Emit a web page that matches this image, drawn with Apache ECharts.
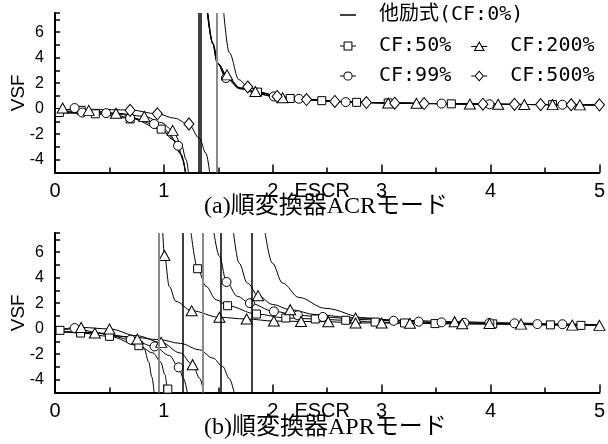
<!DOCTYPE html>
<html>
<head>
<meta charset="utf-8">
<script src="https://cdn.jsdelivr.net/npm/echarts@6/dist/echarts.min.js"></script>
<style>
html, body { margin: 0; padding: 0; background: #fff; }
#chart { width: 608px; height: 444px; }
</style>
</head>
<body>
<div id="chart"></div>
<script>
// ---------- series names ----------
const NAME_SEP = '他励式(CF:0%)';
const NAME_50 = 'CF:50%';
const NAME_99 = 'CF:99%';
const NAME_200 = 'CF:200%';
const NAME_500 = 'CF:500%';

// ---------- (a) ACR mode ----------
const acrAsymBlack = [1.319, 1.344];
const acrAsymGray = [1.487];

const acrSepLeft = [[0,-0.2],[0.3,-0.25],[0.6,-0.45],[0.85,-0.95],[1.0,-1.6],[1.1,-2.5],[1.16,-3.6],[1.2,-5]];
const acrSepRight = [[1.40,7.5],[1.447,5.15],[1.49,3.58],[1.57,2.53],[1.69,1.62],[1.84,1.23],[2.03,0.92],[2.3,0.72],[2.7,0.53],[3.0,0.46],[3.5,0.4],[4.0,0.35],[4.5,0.32],[5.0,0.3]];

const acrCf50Left = [[0,-0.3],[0.37,-0.4],[0.69,-0.75],[0.975,-1.6],[1.08,-2.4],[1.15,-3.5],[1.2,-5]];
const acrCf50Right = [[1.405,7.5],[1.45,5.1],[1.5,3.5],[1.58,2.45],[1.7,1.6],[1.86,1.28],[2.16,0.8],[2.45,0.63],[2.77,0.5],[3.06,0.45],[3.64,0.38],[4.57,0.32],[5.0,0.3]];
const acrCf50Marks = [[0.04,-0.3],[0.24,-0.13],[0.37,-0.4],[0.69,-0.8],[0.975,-1.6],[1.86,1.3],[2.16,0.8],[2.45,0.63],[2.77,0.5],[3.06,0.45],[3.64,0.38],[4.57,0.32]];

const acrCf99Left = [[0,-0.25],[0.47,-0.35],[0.69,-0.7],[0.91,-1.2],[1.05,-2.0],[1.13,-2.9],[1.175,-4],[1.195,-5]];
const acrCf99Right = [[1.40,7.5],[1.445,5.2],[1.49,3.6],[1.57,2.4],[1.7,1.55],[2.01,0.96],[2.24,0.78],[2.67,0.52],[3.0,0.46],[3.55,0.4],[3.99,0.35],[4.66,0.31],[5,0.3]];
const acrCf99Marks = [[0.18,0.05],[0.25,-0.3],[0.47,-0.35],[0.69,-0.73],[0.91,-1.2],[1.13,-2.9],[1.57,2.4],[2.01,0.96],[2.24,0.78],[2.67,0.52],[3.55,0.4],[3.99,0.35],[4.66,0.31]];

const acrCf200Left = [[0,0],[0.31,-0.15],[0.56,-0.35],[0.82,-0.6],[0.98,-1.1],[1.08,-1.7],[1.16,-2.8],[1.205,-4],[1.225,-5]];
const acrCf200Right = [[1.40,7.5],[1.45,5.1],[1.5,3.5],[1.58,2.6],[1.7,1.65],[1.84,1.35],[2.09,0.86],[2.5,0.6],[3.06,0.45],[3.32,0.42],[3.81,0.37],[4.31,0.33],[4.82,0.3],[5,0.3]];
const acrCf200Marks = [[0.07,0.05],[0.31,-0.13],[0.56,-0.35],[0.82,-0.6],[1.08,-1.7],[1.58,2.65],[1.84,1.35],[2.09,0.86],[3.06,0.45],[3.32,0.42],[3.81,0.37],[4.07,0.35],[4.31,0.33],[4.57,0.32],[4.82,0.3]];

const acrCf500Left = [[0,-0.1],[0.35,-0.05],[0.69,-0.1],[0.94,-0.4],[1.1,-0.75],[1.23,-1.25],[1.325,-2.3],[1.387,-3.5],[1.42,-5]];
const acrCf500Right = [[1.55,7.5],[1.6,4.4],[1.69,2.27],[1.77,1.7],[1.9,1.2],[2.04,0.96],[2.31,0.72],[2.57,0.57],[2.86,0.48],[3.12,0.43],[3.39,0.4],[3.93,0.35],[4.46,0.32],[5.0,0.3]];
const acrCf500Marks = [[0.69,-0.13],[0.94,-0.4],[1.23,-1.2],[1.77,1.7],[2.04,0.96],[2.31,0.72],[2.57,0.57],[2.86,0.48],[3.12,0.43],[3.39,0.4],[3.93,0.35],[4.22,0.34],[4.46,0.32],[4.74,0.31],[5.0,0.3]];

// ---------- (b) APR mode ----------
const aprAsymBlack = [1.167, 1.52, 1.813];
const aprAsymGray = [0.951, 1.362];

const aprSepLeft = [[0,-0.2],[0.35,-0.3],[0.7,-0.65],[0.96,-0.86],[1.15,-1.15],[1.325,-1.65],[1.45,-2.3],[1.54,-2.96],[1.6,-3.9],[1.645,-5]];
const aprSepRight = [[1.93,7.5],[1.995,5.15],[2.09,3.58],[2.24,2.45],[2.48,1.6],[2.85,0.85],[3.15,0.6],[3.6,0.45],[4,0.38],[4.5,0.3],[5,0.26]];

const aprCf50Left = [[0,-0.15],[0.235,-0.34],[0.5,-0.6],[0.77,-1.33],[0.9,-1.9],[0.97,-2.6],[1.01,-3.6],[1.03,-4.5],[1.04,-5]];
const aprCf50Right = [[1.25,7.5],[1.31,4.7],[1.387,3.32],[1.48,2.27],[1.585,1.8],[1.85,1.15],[2.12,0.84],[2.39,0.76],[2.67,0.66],[2.94,0.52],[3.21,0.45],[3.49,0.4],[4.02,0.38],[4.55,0.3],[4.83,0.26]];
const aprCf50Marks = [[0.046,-0.13],[0.235,-0.34],[0.5,-0.6],[0.77,-1.33],[1.036,-4.73],[1.31,4.7],[1.585,1.8],[1.85,1.15],[2.12,0.84],[2.39,0.76],[2.67,0.66],[2.94,0.52],[3.21,0.45],[3.49,0.4],[4.02,0.38],[4.55,0.3],[4.83,0.26]];

const aprCf99Left = [[0,-0.2],[0.18,0.0],[0.45,-0.4],[0.695,-0.86],[0.914,-1.39],[1.05,-2.1],[1.136,-3.03],[1.18,-3.9],[1.215,-5]];
const aprCf99Right = [[1.46,7.5],[1.51,5.67],[1.575,3.66],[1.676,2.53],[1.79,2.0],[2.01,1.36],[2.23,1.05],[2.46,0.92],[2.8,0.72],[3.11,0.62],[3.55,0.5],[3.99,0.45],[4.43,0.36],[4.66,0.35],[5,0.3]];
const aprCf99Marks = [[0.18,0.05],[0.695,-0.86],[0.914,-1.39],[1.136,-3.03],[1.575,3.66],[1.79,2.0],[2.01,1.36],[2.23,1.05],[2.46,0.92],[3.11,0.62],[3.34,0.55],[3.55,0.5],[3.76,0.46],[3.99,0.45],[4.22,0.42],[4.43,0.36],[4.66,0.35]];

const aprCf200LeftA = [[0,-0.2],[0.366,-0.34],[0.6,-0.6],[0.756,-0.81],[0.82,-1.6],[0.86,-2.6],[0.89,-3.8],[0.91,-5]];
const aprCf200LeftB = [[0,-0.1],[0.24,0.1],[0.5,-0.02],[0.75,-0.55],[0.975,-1.07],[1.15,-1.9],[1.264,-2.82],[1.33,-3.9],[1.365,-5]];
const aprCf200RightA = [[0.99,7.5],[1.005,5.73],[1.05,3.3],[1.11,2.14],[1.255,1.41],[1.51,0.89],[1.76,0.76],[2.01,0.6],[2.26,0.57],[2.51,0.55],[2.76,0.45],[3.0,0.45],[3.26,0.42],[3.74,0.38],[4.28,0.36],[4.75,0.28],[5.0,0.26]];
const aprCf200RightB = [[1.64,7.5],[1.69,5.15],[1.767,3.58],[1.865,2.59],[2.0,1.9],[2.16,1.49],[2.4,1.1],[2.76,0.84],[3.2,0.65],[3.67,0.55],[4.2,0.45],[4.7,0.36],[5,0.3]];
const aprCf200Marks = [[0.24,0.1],[0.366,-0.34],[0.5,-0.02],[0.756,-0.81],[0.975,-1.07],[1.264,-2.82],[1.005,5.73],[1.255,1.41],[1.51,0.89],[1.76,0.76],[1.865,2.59],[2.16,1.49],[2.01,0.6],[2.26,0.57],[2.51,0.55],[2.76,0.84],[2.76,0.45],[3.0,0.45],[3.26,0.42],[3.67,0.55],[3.74,0.38],[3.99,0.4],[4.28,0.36],[4.75,0.28],[5.0,0.26]];

// ---------- axis ticks ----------
const xTicks = [0, 1, 2, 3, 4, 5];
const yTicks = [-4, -2, 0, 2, 4, 6];
const panelTitles = ['(a)順変換器ACRモード', '(b)順変換器APRモード'];

// ---------- styling helpers ----------
const BLACK = '#000';
const GRAY = '#8a8a8a';
const markerShapes = {};
markerShapes[NAME_50] = { symbol: 'rect', size: 8 };
markerShapes[NAME_99] = { symbol: 'circle', size: 9 };
markerShapes[NAME_200] = { symbol: 'triangle', size: [11, 10] };
markerShapes[NAME_500] = { symbol: 'diamond', size: [10, 12] };

// legend keys: short line stubs on both sides of a hollow marker (outer ring + reversed inner hole)
const KEY_LINE = 'path://M0,5.25H16V6.75H0Z';
const KEY_RECT = 'path://M0,5.5H3.6V6.5H0Z M12.4,5.5H16V6.5H12.4Z M3.6,1.6H12.4V10.4H3.6Z M4.6,2.6V9.4H11.4V2.6Z';
const KEY_CIRCLE = 'path://M0,5.5H3.4V6.5H0Z M12.6,5.5H16V6.5H12.6Z M3.4,6A4.6,4.6 0 1,1 12.6,6A4.6,4.6 0 1,1 3.4,6Z M4.4,6A3.6,3.6 0 1,0 11.6,6A3.6,3.6 0 1,0 4.4,6Z';
const KEY_TRIANGLE = 'path://M0,6H5.4V7H0Z M10.6,6H16V7H10.6Z M8,1L13.6,10.8H2.4Z M8,3.1L4.2,9.8H11.8Z';
const KEY_DIAMOND = 'path://M0,5.5H3.2V6.5H0Z M12.8,5.5H16V6.5H12.8Z M8,0.5L12.8,6L8,11.5L3.2,6Z M8,2L4.5,6L8,10L11.5,6Z';

function curveSeries(name, data, gi) {
  const shape = markerShapes[name];
  return {
    type: 'line', name: name, data: data,
    xAxisIndex: gi, yAxisIndex: gi,
    smooth: 0.35, smoothMonotone: 'x',
    symbol: shape ? shape.symbol : 'none', showSymbol: false,
    lineStyle: { color: BLACK, width: 1 },
    itemStyle: { color: BLACK },
    silent: true, z: 2
  };
}
// measured points of each case, drawn as hollow markers on top of the curves
function markerSeries(name, data, gi) {
  const shape = markerShapes[name];
  return {
    type: 'scatter', id: 'pts-' + gi + '-' + name, data: data,
    xAxisIndex: gi, yAxisIndex: gi,
    symbol: shape.symbol, symbolSize: shape.size,
    itemStyle: { color: '#fff', borderColor: BLACK, borderWidth: 1, opacity: 1 },
    silent: true, z: 4
  };
}
function asymptoteLines(blackXs, grayXs) {
  const items = [];
  blackXs.forEach(x => items.push({ xAxis: x, lineStyle: { color: BLACK, width: 1.5, type: 'solid' } }));
  grayXs.forEach(x => items.push({ xAxis: x, lineStyle: { color: GRAY, width: 2, type: 'solid' } }));
  return { silent: true, symbol: 'none', label: { show: false }, animation: false, data: items };
}

const series = [];
// (a)
const sepA = curveSeries(NAME_SEP, acrSepLeft, 0);
sepA.markLine = asymptoteLines(acrAsymBlack, acrAsymGray);
series.push(sepA, curveSeries(NAME_SEP, acrSepRight, 0));
series.push(curveSeries(NAME_50, acrCf50Left, 0), curveSeries(NAME_50, acrCf50Right, 0), markerSeries(NAME_50, acrCf50Marks, 0));
series.push(curveSeries(NAME_99, acrCf99Left, 0), curveSeries(NAME_99, acrCf99Right, 0), markerSeries(NAME_99, acrCf99Marks, 0));
series.push(curveSeries(NAME_200, acrCf200Left, 0), curveSeries(NAME_200, acrCf200Right, 0), markerSeries(NAME_200, acrCf200Marks, 0));
series.push(curveSeries(NAME_500, acrCf500Left, 0), curveSeries(NAME_500, acrCf500Right, 0), markerSeries(NAME_500, acrCf500Marks, 0));
// (b)
const sepB = curveSeries(NAME_SEP, aprSepLeft, 1);
sepB.markLine = asymptoteLines(aprAsymBlack, aprAsymGray);
series.push(sepB, curveSeries(NAME_SEP, aprSepRight, 1));
series.push(curveSeries(NAME_50, aprCf50Left, 1), curveSeries(NAME_50, aprCf50Right, 1), markerSeries(NAME_50, aprCf50Marks, 1));
series.push(curveSeries(NAME_99, aprCf99Left, 1), curveSeries(NAME_99, aprCf99Right, 1), markerSeries(NAME_99, aprCf99Marks, 1));
series.push(curveSeries(NAME_200, aprCf200LeftA, 1), curveSeries(NAME_200, aprCf200LeftB, 1),
            curveSeries(NAME_200, aprCf200RightA, 1), curveSeries(NAME_200, aprCf200RightB, 1),
            markerSeries(NAME_200, aprCf200Marks, 1));

// ---------- axes ----------
const SANS = 'Liberation Sans, Arial, sans-serif';
function xAxisFor(gi) {
  return {
    type: 'value', gridIndex: gi, min: 0, max: 5, interval: 1,
    name: 'ESCR', nameLocation: 'middle', nameGap: 9, nameMoveOverlap: false,
    nameTextStyle: { fontFamily: SANS, fontSize: 20, color: BLACK, verticalAlign: 'top', padding: [0, 10, 0, 0] },
    axisLine: { show: true, onZero: false, lineStyle: { color: BLACK, width: 2 } },
    axisTick: { show: true, inside: true, length: 8, lineStyle: { color: BLACK, width: 1.5 } },
    minorTick: { show: true, splitNumber: 2, length: 5, lineStyle: { color: BLACK, width: 1.5 } },
    axisLabel: { fontFamily: SANS, fontSize: 20, color: BLACK, margin: 9,
      formatter: v => (xTicks.indexOf(v) >= 0 ? String(v) : '') },
    splitLine: { show: false }, minorSplitLine: { show: false }
  };
}
function yAxisFor(gi) {
  return {
    type: 'value', gridIndex: gi, min: -5, max: 7.5, interval: 1,
    name: 'VSF', nameLocation: 'middle', nameGap: 27, nameRotate: 90, nameMoveOverlap: false,
    nameTextStyle: { fontFamily: SANS, fontSize: 19, color: BLACK },
    axisLine: { show: true, onZero: false, lineStyle: { color: BLACK, width: 2 } },
    axisTick: { show: true, inside: true, length: 5, lineStyle: { color: BLACK, width: 1.5 } },
    axisLabel: { fontFamily: SANS, fontSize: 16, color: BLACK, margin: 11,
      formatter: v => (yTicks.indexOf(v) >= 0 ? String(v) : '') },
    splitLine: { show: false }
  };
}

const legendCommon = {
  orient: 'horizontal', padding: 0, itemWidth: 16, itemHeight: 12, itemGap: 20,
  selectedMode: false,
  textStyle: { fontFamily: 'DejaVu Sans Mono, Noto Sans CJK JP, monospace', fontSize: 20, color: BLACK, padding: [0, 0, 0, 18] }
};
function legendKey(name, icon) {
  return { name: name, icon: icon, itemStyle: { color: BLACK, borderWidth: 0 } };
}

const option = {
  animation: false,
  backgroundColor: '#fff',
  title: panelTitles.map((t, i) => ({
    text: t, left: 204, top: i === 0 ? 195 : 416, padding: 0,
    textStyle: { fontFamily: 'Liberation Serif, Noto Sans CJK JP, serif', fontSize: 24, fontWeight: 'normal', color: BLACK }
  })),
  legend: [
    Object.assign({}, legendCommon, { left: 340, top: 5, data: [legendKey(NAME_SEP, KEY_LINE)] }),
    Object.assign({}, legendCommon, { left: 340, top: 36, data: [legendKey(NAME_50, KEY_RECT), legendKey(NAME_200, KEY_TRIANGLE)] }),
    Object.assign({}, legendCommon, { left: 340, top: 66, data: [legendKey(NAME_99, KEY_CIRCLE), legendKey(NAME_500, KEY_DIAMOND)] })
  ],
  grid: [
    { left: 55, top: 13, width: 548, height: 159.5 },
    { left: 55, top: 233, width: 548, height: 159.5 }
  ],
  xAxis: [xAxisFor(0), xAxisFor(1)],
  yAxis: [yAxisFor(0), yAxisFor(1)],
  series: series
};

const chart = echarts.init(document.getElementById('chart'), null, { renderer: 'canvas' });
chart.setOption(option);
</script>
</body>
</html>
